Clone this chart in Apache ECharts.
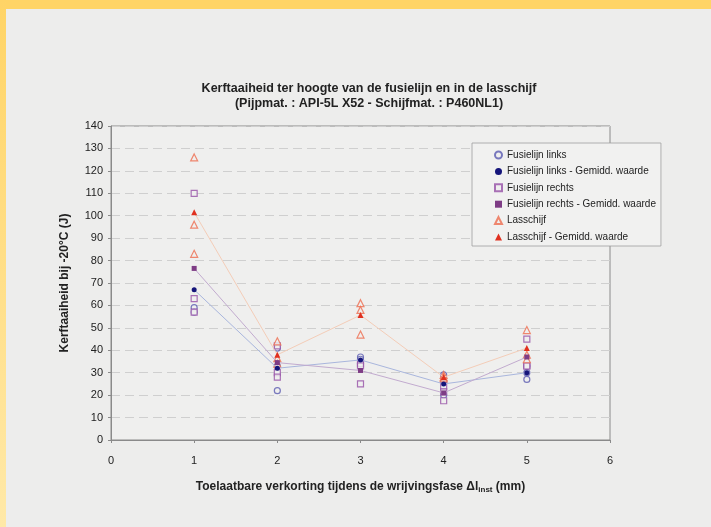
<!DOCTYPE html>
<html><head><meta charset="utf-8">
<script src="https://cdn.jsdelivr.net/npm/echarts@6/dist/echarts.min.js"></script>
<style>
html,body{margin:0;padding:0;background:#EDEDEC;}
#top{position:absolute;left:0;top:0;width:711px;height:9px;background:#FFD466;}
#left{position:absolute;left:0;top:0;width:6px;height:527px;background:linear-gradient(#FFD466,#FFE9A8);}
#c{position:absolute;left:0;top:0;width:711px;height:527px;}
</style></head>
<body><div id="top"></div><div id="left"></div><div id="c"></div>
<script>
const xs = [1, 2, 3, 4, 5];
const xTicks = [0, 1, 2, 3, 4, 5, 6];
const linksVals = [[59, 57], [41, 33, 22], [37, 36, 34], [29, 26, 20], [33, 30, 27]];
const linksMean = [67, 32, 35.7, 25, 30];
const rechtsVals = [[110, 63, 57], [42, 30, 28], [34, 33, 25], [24, 21.5, 17.5], [45, 33, 33]];
const rechtsMean = [76.5, 34.5, 31, 21, 37];
const lasVals = [[126, 96, 83], [44, 36.5, 34], [61, 58, 47], [29, 28, 27.5], [49, 38, 36]];
const lasMean = [101.5, 38, 55.7, 28, 41];
const names = ['Fusielijn links', 'Fusielijn links - Gemidd. waarde', 'Fusielijn rechts',
  'Fusielijn rechts - Gemidd. waarde', 'Lasschijf', 'Lasschijf - Gemidd. waarde'];

function pts(vals) { const out = []; vals.forEach((arr, i) => arr.forEach(v => out.push([xs[i], v]))); return out; }
function mean(m) { return m.map((v, i) => [xs[i], v]); }

const chart = echarts.init(document.getElementById('c'));
const FONT = 'Liberation Sans, Arial, sans-serif';
const FILL = '#EFEFEE';
chart.setOption({
  backgroundColor: 'transparent',
  animation: false,
  textStyle: { fontFamily: FONT },
  title: {
    text: 'Kerftaaiheid ter hoogte van de fusielijn en in de lasschijf\n(Pijpmat. : API-5L X52 - Schijfmat. : P460NL1)',
    left: 364, top: 76, textAlign: 'center',
    textStyle: { fontFamily: FONT, fontSize: 12.5, fontWeight: 'bold', color: '#222', lineHeight: 15 }
  },
  grid: { left: 111, top: 126, width: 499, height: 314, show: true, backgroundColor: '#EFEFEE', borderColor: '#8a8a8a', borderWidth: 1 },
  legend: {
    orient: 'vertical', left: 472, top: 143,
    padding: [6, 5, 3, 22], itemGap: 4.4, itemWidth: 7, itemHeight: 7,
    backgroundColor: '#F1F1F0', borderColor: '#A0A0A0', borderWidth: 0.8, borderRadius: 0,
    textStyle: { fontFamily: FONT, fontSize: 10, color: '#222', lineHeight: 12 },
    data: [
      { name: names[0], icon: 'circle' },
      { name: names[1], icon: 'circle' },
      { name: names[2], icon: 'rect' },
      { name: names[3], icon: 'rect' },
      { name: names[4], icon: 'triangle' },
      { name: names[5], icon: 'triangle' }
    ]
  },
  xAxis: {
    type: 'value', min: 0, max: 6, interval: 1,
    name: 'Toelaatbare verkorting tijdens de wrijvingsfase Δl{sub|inst} (mm)',
    nameLocation: 'middle', nameGap: 40,
    nameTextStyle: { fontFamily: FONT, fontSize: 12, fontWeight: 'bold', color: '#222',
      rich: { sub: { fontFamily: FONT, fontSize: 8, fontWeight: 'bold', color: '#222', verticalAlign: 'bottom', padding: [6, 0, 0, 0] } } },
    axisLine: { lineStyle: { color: '#8a8a8a' } },
    axisTick: { show: true, length: 3, lineStyle: { color: '#8a8a8a' } },
    axisLabel: { fontSize: 11, color: '#222', margin: 15, formatter: v => String(xTicks[v]) },
    splitLine: { show: false }
  },
  yAxis: {
    type: 'value', min: 0, max: 140, interval: 10,
    name: 'Kerftaaiheid bij -20°C (J)', nameLocation: 'middle', nameGap: 40,
    nameTextStyle: { fontFamily: FONT, fontSize: 12, fontWeight: 'bold', color: '#222' },
    axisLine: { show: true, lineStyle: { color: '#8a8a8a' } },
    axisTick: { show: true, length: 3, lineStyle: { color: '#8a8a8a' } },
    axisLabel: { fontSize: 11, color: '#222', margin: 8 },
    splitLine: { show: true, lineStyle: { color: '#CFCFCF', type: [9, 5], width: 1 } }
  },
  series: [
    { name: names[0], type: 'scatter', data: pts(linksVals), symbol: 'circle', symbolSize: 6, z: 3,
      itemStyle: { color: FILL, borderColor: '#5A5AB0', borderWidth: 1.2 } },
    { name: names[2], type: 'scatter', data: pts(rechtsVals), symbol: 'rect', symbolSize: 6, z: 3,
      itemStyle: { color: FILL, borderColor: '#9650A6', borderWidth: 1.2 } },
    { name: names[4], type: 'scatter', data: pts(lasVals), symbol: 'triangle', symbolSize: 7, z: 3,
      itemStyle: { color: FILL, borderColor: '#EE6B4E', borderWidth: 1.2 } },
    { name: names[1], type: 'line', data: mean(linksMean), symbol: 'circle', symbolSize: 5, z: 4,
      lineStyle: { color: '#A9B6DD', width: 1 }, itemStyle: { color: '#15157A' } },
    { name: names[3], type: 'line', data: mean(rechtsMean), symbol: 'rect', symbolSize: 5, z: 4,
      lineStyle: { color: '#C2ABCF', width: 1 }, itemStyle: { color: '#7E3C85' } },
    { name: names[5], type: 'line', data: mean(lasMean), symbol: 'triangle', symbolSize: 6, z: 4,
      lineStyle: { color: '#F4CDB8', width: 1 }, itemStyle: { color: '#E0301F' } }
  ]
});
</script></body></html>
